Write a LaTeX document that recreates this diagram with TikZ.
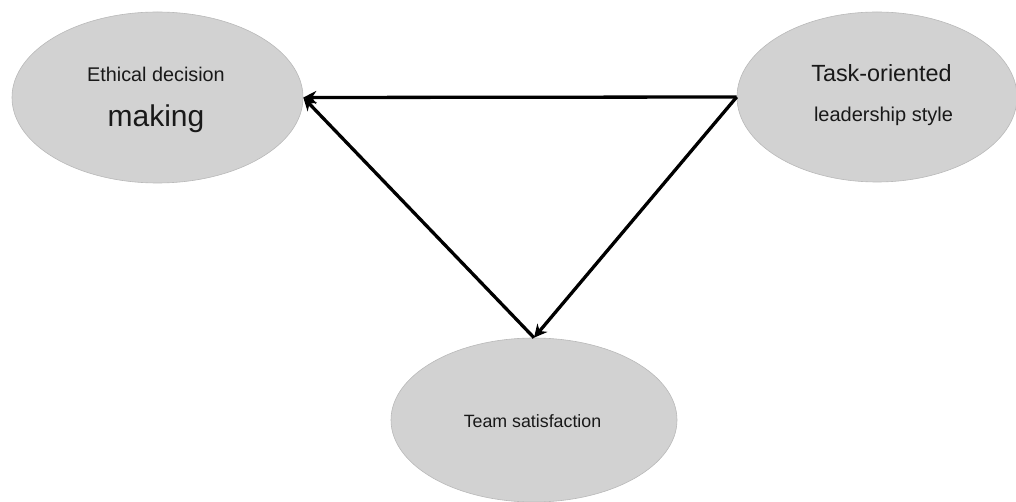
\documentclass[tikz,border=0pt]{standalone}
\usepackage{fontspec}
\setmainfont{Liberation Sans}
\usetikzlibrary{shapes.geometric,arrows.meta}
\definecolor{ellfill}{RGB}{210,210,210}
\definecolor{elldraw}{RGB}{185,185,185}
\definecolor{txt}{RGB}{25,25,25}
\tikzset{
  bubble/.style={ellipse, draw=elldraw, line width=0.6pt, fill=ellfill, inner sep=0pt},
  lbl/.style={anchor=base, inner sep=0pt, text=txt},
  link/.style={line width=3.3pt, -{Stealth[length=13pt,width=13pt]}}
}
\begin{document}
\begin{tikzpicture}[x=1pt,y=-1pt]
\useasboundingbox (0,0) rectangle (1016,502);
\node[bubble, minimum width=291pt, minimum height=171pt] (E) at (157.5,97.5) {};
\node[bubble, minimum width=280pt, minimum height=170pt] (T) at (877,97) {};
\node[bubble, minimum width=286pt, minimum height=164pt] (S) at (534,420) {};
\node[lbl] (e1) at (156,82) {\fontsize{19.8}{19.8}\selectfont Ethical decision};
\node[lbl] (e2) at (156,127) {\fontsize{30}{30}\selectfont making};
\node[lbl] (t1) at (881.5,82) {\fontsize{23.4}{23.4}\selectfont Task-oriented};
\node[lbl] (t2) at (883.5,122) {\fontsize{20}{20}\selectfont leadership style};
\node[lbl] (s1) at (532.5,427) {\fontsize{17.8}{17.8}\selectfont Team satisfaction};
\draw[link] (T.west) -- (E.east);
\draw[link] (T.west) -- (S.north);
\draw[link] (S.north) -- (E.east);
\end{tikzpicture}
\end{document}
